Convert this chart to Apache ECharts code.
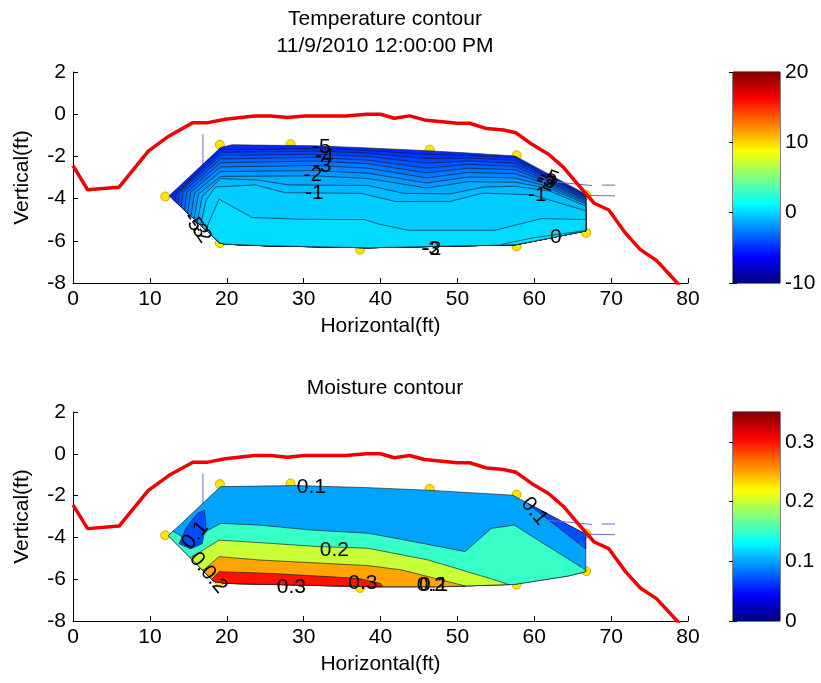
<!DOCTYPE html>
<html><head><meta charset="utf-8">
<script src="https://cdn.jsdelivr.net/npm/echarts/dist/echarts.min.js"></script>
<style>html,body{margin:0;padding:0;background:#fff}#c{width:821px;height:683px}</style>
</head><body><div id="c"></div>
<script>
// ---------------- data ----------------
const surfaceX = [0,1.9,6.0,9.8,12.5,15.6,17.4,19.8,23.6,25.7,27.9,30.1,35.5,38.2,40,41.8,43.8,45.7,50,51.6,53.8,56,57.6,59.7,61.9,63.8,65.7,67.8,69.7,71.9,73.8,75.9,78.9];
const surfaceY = [-2.44,-3.58,-3.46,-1.75,-1.03,-0.4,-0.41,-0.24,-0.08,-0.08,-0.16,-0.08,-0.08,0,0,-0.19,-0.08,-0.27,-0.43,-0.43,-0.68,-0.75,-0.88,-1.43,-1.91,-2.52,-3.34,-4.22,-4.54,-5.65,-6.42,-6.93,-8.12];

const sensorX = [19.1,28.3,46.4,57.7,12.0,66.75,66.75,19.1,37.35,57.7];
const sensorY = [-1.45,-1.42,-1.68,-1.95,-3.9,-3.83,-5.62,-6.11,-6.42,-6.26];

const pipeVertX = [16.9,16.9];   const pipeVertY = [-0.95,-2.5];
const pipeAX = [61.0,67.5];      const pipeAY = [-3.15,-3.38];
const pipeBX = [68.8,70.5];      const pipeBY = [-3.36,-3.36];
const pipeCX = [66.7,70.5];      const pipeCY = [-3.85,-3.87];

const tempRange = [-10, 20];
const moistRange = [0, 0.35];

// temperature contour region and contour lines
const tempRegion = [[12.5,-3.87],[19.2,-1.58],[20.7,-1.45],[31.5,-1.5],[38.4,-1.6],[46,-1.73],[51.4,-1.84],[57.5,-1.98],[66.7,-3.79],[66.7,-5.53],[60.5,-5.98],[57.5,-6.19],[38.4,-6.33],[25.5,-6.24],[19.8,-6.16],[19.1,-6.1]];
// band colour values: region above the first line, then the band below each line
const tempBandValues = [-5.0,-4.75,-4.25,-3.75,-3.25,-2.75,-2.25,-1.75,-1.25,-0.75,-0.25,0.2,0.5];
const tempLines = [
  [[13.0,-4.45],[13.0,-3.85],[19.2,-1.68],[31.5,-1.62],[38.4,-1.72],[46,-1.9],[51.4,-1.96],[57.5,-2.06],[62,-2.98],[68,-4.08]],
  [[13.3,-4.5],[13.4,-3.8],[19.2,-1.8],[31.5,-1.75],[38.4,-1.85],[46,-2.1],[51.4,-2.08],[57.5,-2.18],[62,-3.05],[68,-4.12]],
  [[13.6,-4.6],[13.8,-3.75],[19.2,-1.95],[31.5,-1.9],[38.4,-2.0],[46,-2.32],[51.4,-2.22],[57.5,-2.32],[62,-3.12],[68,-4.17]],
  [[14.0,-4.7],[14.3,-3.7],[19.2,-2.12],[31.5,-2.05],[38.4,-2.18],[46,-2.55],[51.4,-2.38],[57.5,-2.47],[62,-3.2],[68,-4.22]],
  [[14.4,-4.85],[14.8,-3.7],[19.2,-2.3],[31.5,-2.22],[38.4,-2.35],[46,-2.78],[51.4,-2.56],[57.5,-2.63],[62,-3.27],[68,-4.27]],
  [[14.8,-5.0],[15.3,-3.7],[19.2,-2.5],[31.5,-2.43],[38.4,-2.56],[46,-3.02],[51.4,-2.76],[57.5,-2.82],[62,-3.35],[68,-4.32]],
  [[15.2,-5.15],[15.8,-3.75],[19.2,-2.72],[31.5,-2.67],[38.4,-2.8],[46,-3.26],[51.4,-2.98],[57.5,-3.02],[62,-3.44],[68,-4.38]],
  [[15.6,-5.3],[16.3,-3.8],[19.2,-2.95],[31.5,-2.92],[38.4,-3.05],[46,-3.5],[51.4,-3.2],[57.5,-3.22],[62,-3.53],[68,-4.45]],
  [[16.0,-5.45],[16.8,-3.9],[19.2,-3.05],[24,-3.12],[28,-3.35],[38.4,-3.38],[43,-3.75],[49,-3.78],[53.5,-3.45],[57.5,-3.42],[62,-3.64],[68,-4.55]],
  [[16.4,-5.6],[17.3,-4.1],[18.5,-3.45],[23.7,-3.35],[27.6,-3.72],[37.5,-3.75],[42,-4.14],[49,-4.14],[53.3,-3.74],[59.7,-3.82],[68,-4.72]],
  [[17.0,-5.9],[17.6,-5.2],[19,-4.03],[23.3,-4.9],[29.8,-4.98],[38,-5.0],[39.7,-5.2],[43.6,-5.5],[54.9,-5.5],[60.9,-4.95],[68,-5.0]],
  [[53,-6.6],[56,-6.15],[60,-5.85],[68,-5.45]]
];
const tempLabelText = ['-5','-4','-3','-2','-1','-5','-3','-2','-1','0','-3','-2','-5','-3','-2'];
const tempLabelX    = [32.3,32.7,32.4,31.2,31.4,61.9,61.6,61.4,60.4,62.8,46.5,46.7,15.6,16.2,16.7];
const tempLabelY    = [-1.58,-2.0,-2.45,-2.9,-3.75,-3.0,-3.15,-3.25,-3.85,-5.85,-6.4,-6.4,-5.1,-5.4,-5.65];
const tempLabelRot  = [0,0,0,0,0,-20,-20,-20,0,0,0,0,-55,-55,-55];

// moisture contour region, patches and lines
const moistRegion = [[12.4,-3.92],[19.2,-1.57],[29,-1.52],[38.4,-1.62],[46,-1.74],[57.2,-1.98],[66.7,-3.85],[66.7,-5.64],[64.4,-5.85],[57.4,-6.25],[48,-6.36],[39,-6.36],[19.8,-6.2],[18.3,-6.1]];
const moistBaseBand = 0.1;
const moistPatchValue = 0.07;
const moistRightPatch = [[58.5,-2.1],[68,-3.9],[68,-4.6],[66.7,-4.55],[62,-3.2],[59.5,-2.5]];
const moistLeftPatch = [[13.8,-4.3],[14.8,-3.5],[16.2,-2.85],[17.1,-2.7],[17.3,-3.4],[16.8,-4.3],[15.3,-4.55]];
const moistLevels = [0.15,0.2,0.25,0.3];
const moistLines = [
  [[11.0,-3.55],[13.3,-3.75],[15.0,-4.2],[16.5,-4.05],[17.6,-3.65],[19.2,-3.33],[24.2,-3.41],[31.1,-3.65],[38.4,-3.8],[45,-4.25],[51,-4.68],[54.4,-3.57],[57.4,-3.41],[66.7,-5.56],[68,-5.85]],
  [[14.5,-5.1],[16.3,-4.75],[19,-4.13],[25.5,-4.28],[31.9,-4.44],[38.4,-4.52],[46.2,-5.08],[54.9,-6.04],[57,-6.3],[58,-6.9]],
  [[15.5,-5.7],[17.2,-5.5],[19,-4.92],[24.2,-5.08],[38.4,-5.35],[42.8,-5.56],[51.4,-6.36],[52,-6.8]],
  [[17.0,-6.3],[18.2,-5.95],[19,-5.64],[25.5,-5.72],[37.1,-5.96],[40,-6.2],[41,-6.7]]
];
const moistLabelText = ['0.1','0.1','0.1','0.2','0.0.2','0.3','0.3','0.2','0.1'];
const moistLabelX    = [31.0,60.0,15.9,34.0,17.6,28.4,37.7,46.6,46.9];
const moistLabelY    = [-1.62,-2.75,-3.9,-4.6,-5.7,-6.38,-6.2,-6.27,-6.27];
const moistLabelRot  = [0,-50,50,0,-50,0,0,0,0];

// ---------------- helpers ----------------
function jet(v, lo, hi) {
  const t = Math.min(1, Math.max(0, (v - lo) / (hi - lo)));
  const f = c => Math.round(255 * Math.min(1, Math.max(0, c)));
  return 'rgb(' + f(1.5 - Math.abs(4*t - 3)) + ',' + f(1.5 - Math.abs(4*t - 2)) + ',' + f(1.5 - Math.abs(4*t - 1)) + ')';
}
function clipPoly(subject, clip) {
  let area = 0;
  for (let i = 0; i < clip.length; i++) {
    const a = clip[i], b = clip[(i+1) % clip.length];
    area += a[0]*b[1] - b[0]*a[1];
  }
  const s = area > 0 ? 1 : -1;
  let out = subject.slice();
  for (let i = 0; i < clip.length && out.length; i++) {
    const A = clip[i], B = clip[(i+1) % clip.length];
    const ex = B[0]-A[0], ey = B[1]-A[1];
    const inside = p => s*(ex*(p[1]-A[1]) - ey*(p[0]-A[0])) >= 0;
    const inter = (P, Q) => {
      const dx = Q[0]-P[0], dy = Q[1]-P[1];
      const t = ((A[0]-P[0])*ey - (A[1]-P[1])*ex) / (dx*ey - dy*ex);
      return [P[0]+t*dx, P[1]+t*dy];
    };
    const inp = out; out = [];
    for (let j = 0; j < inp.length; j++) {
      const P = inp[j], Q = inp[(j+1) % inp.length];
      const pin = inside(P), qin = inside(Q);
      if (pin) { out.push(P); if (!qin) out.push(inter(P, Q)); }
      else if (qin) out.push(inter(P, Q));
    }
  }
  return out;
}
function below(line) {
  return line.concat([[line[line.length-1][0], -10], [line[0][0], -10]]);
}

// build filled bands
const tc = v => jet(v, tempRange[0], tempRange[1]);
const tempPolys = [{pts: tempRegion, color: tc(tempBandValues[0])}];
tempLines.forEach((ln, i) => tempPolys.push({pts: clipPoly(below(ln), tempRegion), color: tc(tempBandValues[i + 1])}));

const mc = v => jet(v, moistRange[0], moistRange[1]);
const moistPolys = [
  {pts: moistRegion, color: mc(moistBaseBand)},
  {pts: clipPoly(moistRightPatch, moistRegion), color: mc(moistPatchValue)},
  {pts: clipPoly(below(moistLines[0]), moistRegion), color: mc(moistLevels[0])},
  {pts: clipPoly(moistLeftPatch, moistRegion), color: mc(moistPatchValue)},
  {pts: clipPoly(below(moistLines[1]), moistRegion), color: mc(moistLevels[1])},
  {pts: clipPoly(below(moistLines[2]), moistRegion), color: mc(moistLevels[2])},
  {pts: clipPoly(below(moistLines[3]), moistRegion), color: mc(moistLevels[3])}
];

const FONT = '"Liberation Sans", Arial, Helvetica, sans-serif';
const FS = 21;

function contourSeries(polys, xi) {
  return {
    type: 'custom', xAxisIndex: xi, yAxisIndex: xi, z: 3, silent: true, clip: false,
    data: polys.map((p, i) => [i, 0]),
    renderItem: (params, api) => {
      const p = polys[params.dataIndex];
      if (!p.pts.length) return null;
      return {
        type: 'polygon', z2: params.dataIndex,
        shape: {points: p.pts.map(q => api.coord(q))},
        style: {fill: p.color, stroke: 'rgba(20,20,40,0.8)', lineWidth: 0.8}
      };
    }
  };
}
function labelSeries(tx, lx, ly, lr, xi) {
  return {
    type: 'custom', xAxisIndex: xi, yAxisIndex: xi, z: 6, silent: true, clip: false,
    data: tx.map((t, i) => [lx[i], ly[i]]),
    renderItem: (params, api) => {
      const i = params.dataIndex;
      const p = api.coord([lx[i], ly[i]]);
      return {
        type: 'text', x: p[0], y: p[1], rotation: lr[i] * Math.PI / 180,
        style: {text: tx[i], fontSize: FS, fontFamily: FONT, fill: '#000', align: 'center', verticalAlign: 'middle'}
      };
    }
  };
}
function colorbarSeries(range, idx) {
  return {
    type: 'custom', xAxisIndex: idx, yAxisIndex: idx, z: 2, silent: true,
    data: [[0, range[0]]],
    renderItem: (params, api) => {
      const a = api.coord([0, range[0]]);
      const b = api.coord([1, range[1]]);
      const stops = [];
      for (let k = 0; k <= 64; k++) {
        const v = range[0] + (range[1]-range[0]) * k / 64;
        stops.push({offset: k/64, color: jet(v, range[0], range[1])});
      }
      return {
        type: 'rect', shape: {x: a[0], y: b[1], width: b[0]-a[0], height: a[1]-b[1]},
        style: {fill: new echarts.graphic.LinearGradient(0, 1, 0, 0, stops)}
      };
    }
  };
}
function lineSeries(xs, ys, xi, color, width, z) {
  return {
    type: 'line', xAxisIndex: xi, yAxisIndex: xi, z: z, silent: true, showSymbol: false, symbol: 'none',
    data: xs.map((x, i) => [x, ys[i]]),
    lineStyle: {color: color, width: width}, animation: false
  };
}
function sensorSeries(xi) {
  return {
    type: 'scatter', xAxisIndex: xi, yAxisIndex: xi, z: 2, silent: true, symbolSize: 9,
    data: sensorX.map((x, i) => [x, sensorY[i]]),
    itemStyle: {color: '#ffe600', borderColor: '#d9a800', borderWidth: 1, opacity: 1}
  };
}

const axisText = {color: '#000', fontSize: FS, fontFamily: FONT};
function mainX(gi) {
  return {
    gridIndex: gi, type: 'value', min: 0, max: 80, interval: 10,
    axisLine: {show: true, onZero: false, lineStyle: {color: '#000', width: 1}},
    axisTick: {show: true, inside: true, length: 5, lineStyle: {color: '#000'}},
    axisLabel: Object.assign({margin: 6}, axisText),
    splitLine: {show: false},
    name: 'Horizontal(ft)', nameLocation: 'middle', nameGap: 33, nameTextStyle: axisText
  };
}
function mainY(gi) {
  return {
    gridIndex: gi, type: 'value', min: -8, max: 2, interval: 2,
    axisLine: {show: true, onZero: false, lineStyle: {color: '#000', width: 1}},
    axisTick: {show: true, inside: true, length: 5, lineStyle: {color: '#000'}},
    axisLabel: Object.assign({margin: 7}, axisText),
    splitLine: {show: false},
    name: 'Vertical(ft)', nameLocation: 'middle', nameGap: 40, nameTextStyle: axisText
  };
}
function cbX(gi) {
  return {gridIndex: gi, type: 'value', min: 0, max: 1, show: false};
}
function cbY(gi, range, interval, pos, labels) {
  return {
    gridIndex: gi, type: 'value', min: range[0], max: range[1], interval: interval, position: pos,
    axisLine: {show: false},
    axisTick: {show: true, inside: true, length: 4, lineStyle: {color: '#000'}},
    axisLabel: Object.assign({show: labels, margin: 5, showMaxLabel: range[1] % interval === 0}, axisText),
    splitLine: {show: false}
  };
}

const chart = echarts.init(document.getElementById('c'), null, {renderer: 'canvas'});
chart.setOption({
  animation: false,
  backgroundColor: '#fff',
  title: [
    {text: 'Temperature contour\n11/9/2010 12:00:00 PM', left: 380, top: 1, textAlign: 'center',
     textStyle: {fontSize: FS, fontWeight: 'normal', color: '#000', fontFamily: FONT, lineHeight: 27}},
    {text: 'Moisture contour', left: 380, top: 370, textAlign: 'center',
     textStyle: {fontSize: FS, fontWeight: 'normal', color: '#000', fontFamily: FONT, lineHeight: 27}}
  ],
  grid: [
    {left: 73, top: 72, width: 615, height: 211, containLabel: false},
    {left: 73, top: 412, width: 615, height: 209, containLabel: false},
    {left: 733, top: 72, width: 47, height: 211, show: true, borderColor: '#000', borderWidth: 1, backgroundColor: 'transparent'},
    {left: 733, top: 412, width: 47, height: 209, show: true, borderColor: '#000', borderWidth: 1, backgroundColor: 'transparent'}
  ],
  xAxis: [mainX(0), mainX(1), cbX(2), cbX(3)],
  yAxis: [mainY(0), mainY(1),
          cbY(2, tempRange, 10, 'right', true), cbY(3, moistRange, 0.1, 'right', true),
          cbY(2, tempRange, 10, 'left', false), cbY(3, moistRange, 0.1, 'left', false)],
  series: [
    colorbarSeries(tempRange, 2),
    colorbarSeries(moistRange, 3),
    lineSeries(pipeVertX, pipeVertY, 0, '#6a6ad8', 1, 1),
    lineSeries(pipeVertX, pipeVertY, 1, '#6a6ad8', 1, 1),
    sensorSeries(0), sensorSeries(1),
    contourSeries(tempPolys, 0),
    contourSeries(moistPolys, 1),
    lineSeries(pipeAX, pipeAY, 0, '#6a6ad8', 1, 4),
    lineSeries(pipeBX, pipeBY, 0, '#6a6ad8', 1, 4),
    lineSeries(pipeCX, pipeCY, 0, '#6a6ad8', 1, 4),
    lineSeries(pipeAX, pipeAY, 1, '#6a6ad8', 1, 4),
    lineSeries(pipeBX, pipeBY, 1, '#6a6ad8', 1, 4),
    lineSeries(pipeCX, pipeCY, 1, '#6a6ad8', 1, 4),
    lineSeries(surfaceX, surfaceY, 0, '#f00000', 3.5, 5),
    lineSeries(surfaceX, surfaceY, 1, '#f00000', 3.5, 5),
    labelSeries(tempLabelText, tempLabelX, tempLabelY, tempLabelRot, 0),
    labelSeries(moistLabelText, moistLabelX, moistLabelY, moistLabelRot, 1)
  ]
});
</script>
</body></html>
